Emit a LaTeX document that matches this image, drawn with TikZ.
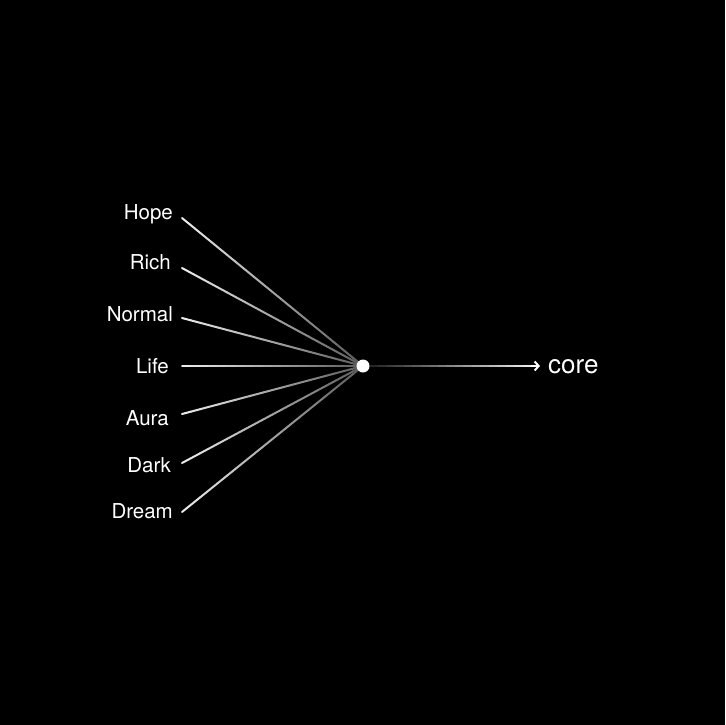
\documentclass[tikz,border=0pt]{standalone}
\usepackage{fontspec}
\setmainfont{TeX Gyre Heros}
\usetikzlibrary{arrows.meta,calc}
\begin{document}
\begin{tikzpicture}[x=1pt,y=-1pt,>={Straight Barb[length=4pt,width=9pt]}]
    \tikzset{word/.style={text=white,font=\fontsize{20.5}{20.5}\selectfont,anchor=base east,inner sep=0pt},
             spoke/.style={line width=2pt,line cap=round}}
    \fill[black](0,0)rectangle(725,725);
    \useasboundingbox(0,0)rectangle(725,725);
    \coordinate(hubc) at (363,366);
    % the fan of words
    \foreach \name/\x/\y/\base in {Hope/173/218/219,Rich/171/268/269,Normal/173/318/321,Life/169/366/373,
                                    Aura/169/414/425,Dark/171/463/472,Dream/173/512/518}{
        \node[word](\name) at (\x,\base){\name};
        \coordinate(\name-s) at (182,\y);
        \foreach \k [evaluate=\k as \pct using 92-55*\k/19] in {0,...,19}
            \draw[spoke,color=white!\pct!black] ($(\name-s)!\k/20!(hubc)$) -- ($(\name-s)!\k/20+0.05!(hubc)$);
    }
    \node[circle,fill=white,inner sep=0pt,minimum size=13pt](hub) at (hubc){};
    % arrow to core
    \coordinate(tip) at (540,366);
    \node[text=white,font=\fontsize{26}{26}\selectfont,anchor=base west,inner sep=0pt](core) at (548,373){core};
    \foreach \k [evaluate=\k as \pct using 15+80*\k/19] in {0,...,18}
        \draw[line width=2pt,color=white!\pct!black] ($(hub.east)!\k/20!(tip)$) -- ($(hub.east)!\k/20+0.05!(tip)$);
    \draw[line width=2pt,white,->] ($(hub.east)!0.95!(tip)$) -- (tip);
\end{tikzpicture}
\end{document}
